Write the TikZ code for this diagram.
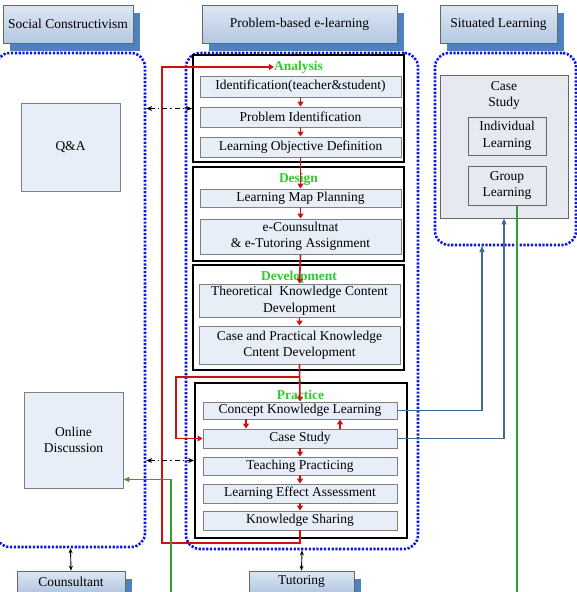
\documentclass[tikz,border=0pt]{standalone}
\usepackage{fontspec}
\setmainfont{Liberation Serif}
\usetikzlibrary{arrows.meta,shadows,calc}
\definecolor{hdrtop}{HTML}{DDE7F3}
\definecolor{hdrbot}{HTML}{B4C8E2}
\definecolor{shblue}{HTML}{4F81BD}
\definecolor{boxfill}{HTML}{E8EEF8}
\definecolor{boxline}{HTML}{7F7F7F}
\definecolor{dotblue}{HTML}{0A14E6}
\definecolor{redl}{HTML}{CC1111}
\definecolor{lblgreen}{HTML}{2ECC2E}
\definecolor{lngreen}{HTML}{2FA02F}
\definecolor{steel}{HTML}{3E6A94}
\definecolor{csfill}{HTML}{E6E9F0}
\begin{document}
\begin{tikzpicture}[x=1pt,y=-1pt,font=\fontsize{13.5}{16.5}\selectfont,
  hdr/.style={draw=black!60, line width=0.6pt, top color=hdrtop, bottom color=hdrbot,
    drop shadow={shadow xshift=7pt, shadow yshift=-8pt, fill=shblue, opacity=1}, inner sep=0pt},
  dotbox/.style={draw=dotblue, line width=2.6pt, dash pattern=on 2.2pt off 1.6pt, rounded corners=14pt, inner sep=0pt},
  stagebox/.style={draw=black, line width=1.8pt, fill=white, inner sep=0pt},
  ibox/.style={draw=boxline, line width=0.9pt, fill=boxfill, inner sep=0pt, align=center},
  sbox/.style={draw=black!60, line width=0.9pt, fill=csfill, inner sep=0pt, align=center},
  stlabel/.style={text=lblgreen, font=\fontsize{13.5}{16.5}\selectfont\bfseries, inner sep=0pt},
  redarrow/.style={draw=redl, line width=1.6pt, -{Triangle[length=5pt,width=6pt]}},
  dda/.style={draw=black, line width=1pt, dash pattern=on 5pt off 3pt on 1.5pt off 3pt, {Stealth[length=6pt,width=5pt]}-{Stealth[length=6pt,width=5pt]}},
  vda/.style={draw=black, line width=0.9pt, {Stealth[length=5pt,width=4pt]}-{Stealth[length=5pt,width=4pt]}},
  steelarrow/.style={draw=steel, line width=1.1pt, -{Triangle[length=6pt,width=5pt]}},
  greenline/.style={draw=lngreen, line width=1.2pt}
]
\useasboundingbox (0,0) rectangle (577,592);

% headers
\node[hdr, minimum width=130pt, minimum height=38pt] (sc) at (68,24) {Social Constructivism};
\node[hdr, minimum width=195pt, minimum height=38pt] (pbl) at (299.5,24) {Problem-based e-learning};
\node[hdr, minimum width=117pt, minimum height=38pt] (sit) at (498.5,24) {Situated Learning};
\node[hdr, minimum width=108pt, minimum height=21pt] (cons) at (71,581.5) {Counsultant};
\node[hdr, minimum width=105pt, minimum height=21pt] (tut) at (301.5,581.5) {Tutoring};

% dotted regions
\node[dotbox, minimum width=149pt, minimum height=494pt] (lft) at (70.5,300) {};
\node[dotbox, minimum width=232pt, minimum height=496pt] (ctr) at (302,301) {};
\node[dotbox, minimum width=141pt, minimum height=192pt] (sl) at (505.5,149) {};

% left nodes
\node[ibox, minimum width=99pt, minimum height=88pt] (qa) at (70.5,147) {Q\&A};
\node[ibox, minimum width=99pt, minimum height=96pt] (od) at (73.5,440) {Online\\Discussion};

% stage boxes
\node[stagebox, minimum width=211pt, minimum height=107pt] (anb) at (298.5,108.5) {};
\node[stagebox, minimum width=211pt, minimum height=94pt] (deb) at (298.5,214) {};
\node[stagebox, minimum width=211pt, minimum height=105pt] (dvb) at (298.5,317.5) {};
\node[stagebox, minimum width=212pt, minimum height=155pt] (prb) at (301,460.5) {};

% labels
\node[stlabel] (an) at (298.5,67) {Analysis};
\node[stlabel] (de) at (298.5,179) {Design};
\node[stlabel] (dv) at (299,277) {Development};
\node[stlabel] (pr) at (300.5,395) {Practice};

% inner boxes
\node[ibox, minimum width=201pt, minimum height=21pt] (id) at (300.5,86.5) {Identification(teacher\&student)};
\node[ibox, minimum width=201pt, minimum height=20pt] (pi) at (300.5,117) {Problem Identification};
\node[ibox, minimum width=201pt, minimum height=20pt] (lo) at (300.5,147) {Learning Objective Definition};
\node[ibox, minimum width=201pt, minimum height=18pt] (lmp) at (300.5,198) {Learning Map Planning};
\node[ibox, minimum width=201pt, minimum height=35pt] (ec) at (300.5,236.5) {e-Counsultnat\\\& e-Tutoring Assignment};
\node[ibox, minimum width=201pt, minimum height=33pt] (tk) at (299.5,300.5) {Theoretical~~Knowledge Content\\Development};
\node[ibox, minimum width=201pt, minimum height=38pt] (cp) at (299.5,345) {Case and Practical Knowledge\\Cntent Development};
\node[ibox, minimum width=194pt, minimum height=17pt] (ckl) at (300,410.5) {Concept Knowledge Learning};
\node[ibox, minimum width=194pt, minimum height=19pt] (cs) at (300,438.5) {Case Study};
\node[ibox, minimum width=194pt, minimum height=18pt] (tp) at (300,466) {Teaching Practicing};
\node[ibox, minimum width=194pt, minimum height=19pt] (lea) at (300,493.5) {Learning Effect Assessment};
\node[ibox, minimum width=194pt, minimum height=19pt] (ks) at (300,520.5) {Knowledge Sharing};

% right side
\node[sbox, minimum width=128pt, minimum height=143pt] (csr) at (504,146.5) {};
\node[align=center, inner sep=0pt] (cst) at (504,95.5) {Case\\Study};
\node[sbox, minimum width=78pt, minimum height=38pt] (il) at (507,136) {Individual\\Learning};
\node[sbox, minimum width=78pt, minimum height=39pt] (gl) at (507,185.5) {Group\\Learning};

% coordinates
\coordinate (r1) at (162,543);
\coordinate (r3) at (176,377);
\coordinate (t1) at (482,246);
\coordinate (g1) at (171,595);
\coordinate (g2) at (517,595);

% red flow
\draw[redarrow] (id.south) -- (pi.north);
\draw[redarrow] (pi.south) -- (lo.north);
\draw[redarrow] (lo.south) -- (lmp.north);
\draw[redarrow] (lmp.south) -- (ec.north);
\draw[redarrow] (ec.south) -- (tk.north);
\draw[redarrow] (tk.south) -- (cp.north);
\draw[redarrow] (cp.south) -- (ckl.north);
\draw[redarrow] ($(ckl.south)+(-54,0)$) -- ($(cs.north)+(-54,0)$);
\draw[redarrow] ($(cs.north)+(40,0)$) -- ($(ckl.south)+(40,0)$);
\draw[redarrow] (cs.south) -- (tp.north);
\draw[redarrow] (tp.south) -- (lea.north);
\draw[redarrow] (lea.south) -- (ks.north);
\draw[redarrow] (ks.south) |- (r1) |- (an.west);
\draw[redarrow] (cp.south) |- (r3) |- (cs.west);

% dash-dot links
\draw[dda] (anb.west -| lft.east) -- (anb.west);
\draw[dda] (prb.west -| lft.east) -- (prb.west);
\draw[vda] (lft.south) -- (cons.north);
\draw[vda] (ctr.south) -- (tut.north);

% steel arrows
\draw[steelarrow] (ckl.east) -| (t1);
\draw[steelarrow] (cs.east) -| (csr.south);

% green lines
\draw[greenline, -{Triangle[length=6pt,width=5pt]}] (g1) |- ($(od.south east)+(0,-9)$);
\draw[greenline] (gl.south -| g2) -- (g2);
\end{tikzpicture}
\end{document}
